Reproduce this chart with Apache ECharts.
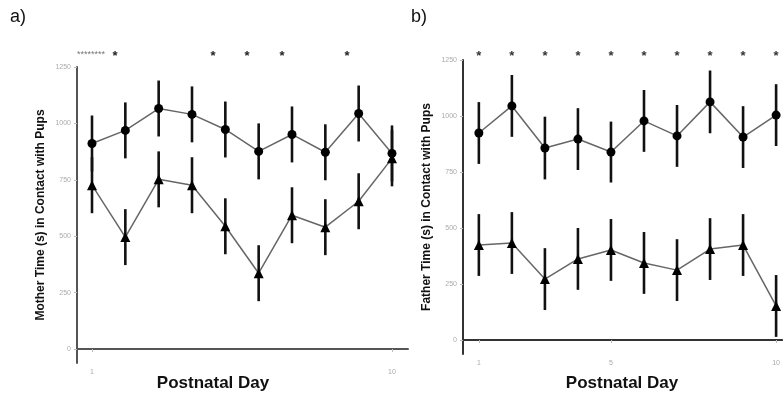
<!DOCTYPE html>
<html>
<head>
<meta charset="utf-8">
<script src="https://cdn.jsdelivr.net/npm/echarts@6/dist/echarts.min.js"></script>
<style>
  html, body { margin: 0; padding: 0; background: #fff; }
  #chart { width: 783px; height: 401px; }
</style>
</head>
<body>
<div id="chart"></div>
<script>
// postnatal days
const days = [1, 2, 3, 4, 5, 6, 7, 8, 9, 10]

// a) mother
const motherUpper = [911, 969, 1066, 1040, 973, 876, 951, 872, 1044, 867]
const motherUpperErr = [124, 124, 124, 124, 124, 124, 124, 124, 124, 124]
const motherLower = [726, 496, 752, 726, 544, 336, 593, 540, 655, 845]
const motherLowerErr = [124, 124, 124, 124, 124, 124, 124, 124, 124, 124]
const motherStars = [1.69, 4.63, 5.65, 6.7, 8.65]

// b) father
const fatherUpper = [924, 1045, 857, 897, 839, 978, 911, 1063, 906, 1004]
const fatherUpperErr = [138, 138, 140, 138, 136, 138, 138, 140, 138, 138]
const fatherLower = [424, 433, 272, 362, 402, 344, 312, 406, 424, 152]
const fatherLowerErr = [138, 138, 138, 138, 138, 138, 138, 138, 138, 138]
const fatherStars = [1, 2, 3, 4, 5, 6, 7, 8, 9, 10]

// tick labels
const yTicks = [0, 250, 500, 750, 1000, 1250]
const xTicksA = [1, 10]
const xTicksB = [1, 5, 10]
const starYA = 1312
const starYB = 1281

const chart = echarts.init(document.getElementById('chart'))

const pairs = (vals) => days.map((d, i) => [d, vals[i]])
const errData = (vals, errs) => days.map((d, i) => [d, vals[i] - errs[i], vals[i] + errs[i]])

// 误差线
const errorSeries = (idx, vals, errs) => ({
  type: 'custom',
  xAxisIndex: idx,
  yAxisIndex: idx,
  z: 2,
  data: errData(vals, errs),
  renderItem: (params, api) => {
    const lo = api.coord([api.value(0), api.value(1)])
    const hi = api.coord([api.value(0), api.value(2)])
    return {
      type: 'line',
      shape: { x1: lo[0], y1: lo[1], x2: hi[0], y2: hi[1] },
      style: { stroke: '#111', lineWidth: 2.6 }
    }
  }
})

const lineSeries = (idx, vals, symbol) => ({
  type: 'line',
  xAxisIndex: idx,
  yAxisIndex: idx,
  z: 3,
  data: pairs(vals),
  symbol: symbol,
  symbolSize: symbol === 'triangle' ? 10 : 9,
  lineStyle: { color: '#666', width: 1.5 },
  itemStyle: { color: '#000' }
})

// 显著性星号
const starSeries = (idx, xs, y, color) => ({
  type: 'custom',
  xAxisIndex: idx,
  yAxisIndex: idx,
  z: 4,
  clip: false,
  data: xs.map(x => [x, y]),
  renderItem: (params, api) => {
    const p = api.coord([api.value(0), api.value(1)])
    return {
      type: 'text',
      x: p[0],
      y: p[1] + 3,
      style: {
        text: '*',
        fill: color,
        font: 'bold 13px "Liberation Sans"',
        align: 'center',
        verticalAlign: 'middle'
      }
    }
  }
})

const axisLabel = { fontSize: 7, color: '#aaa', fontFamily: 'Liberation Sans', formatter: v => String(v) }

const yAxisBase = (idx, color) => ({
  type: 'value',
  gridIndex: idx,
  min: idx === 0 ? -62 : -62.5,
  max: 1250,
  splitLine: { show: false },
  axisLine: { show: true, lineStyle: { color: color, width: 2 } },
  axisTick: { show: true, length: 3, customValues: yTicks, lineStyle: { color: '#bbb' } },
  axisLabel: { ...axisLabel, customValues: yTicks, margin: 6 },
  name: idx === 0 ? 'Mother Time (s) in Contact with Pups' : 'Father Time (s) in Contact with Pups',
  nameLocation: 'middle',
  nameGap: 30,
  nameTextStyle: { fontSize: 12, fontWeight: 'bold', color: '#111', fontFamily: 'Liberation Sans' }
})

const option = {
  backgroundColor: '#fff',
  animation: false,
  grid: [
    { left: 77, top: 67, width: 331, height: 296 },
    { left: 463, top: 60, width: 320, height: 294 }
  ],
  xAxis: [
    {
      type: 'value', gridIndex: 0, min: 0.55, max: 10.48,
      splitLine: { show: false },
      axisLine: { show: true, lineStyle: { color: '#555', width: 2 } },
      axisTick: { show: true, length: 3, customValues: xTicksA, lineStyle: { color: '#bbb' } },
      axisLabel: { ...axisLabel, customValues: xTicksA, margin: 6 }
    },
    {
      type: 'value', gridIndex: 1, min: 0.52, max: 10.18,
      splitLine: { show: false },
      axisLine: { show: true, lineStyle: { color: '#333', width: 2 } },
      axisTick: { show: true, length: 3, customValues: xTicksB, lineStyle: { color: '#bbb' } },
      axisLabel: { ...axisLabel, customValues: xTicksB, margin: 6 }
    }
  ],
  yAxis: [yAxisBase(0, '#555'), yAxisBase(1, '#333')],
  graphic: [
    { type: 'text', left: 10, top: 8, style: { text: 'a)', font: '18px "Liberation Sans"', fill: '#111' } },
    { type: 'text', left: 411, top: 8, style: { text: 'b)', font: '18px "Liberation Sans"', fill: '#111' } },
    { type: 'text', left: 77, top: 50, style: { text: '********', font: '9px "Liberation Sans"', fill: '#777' } },
    { type: 'text', x: 213, y: 383, style: { text: 'Postnatal Day', font: 'bold 17px "Liberation Sans"', fill: '#111', align: 'center', verticalAlign: 'middle' } },
    { type: 'text', x: 622, y: 383, style: { text: 'Postnatal Day', font: 'bold 17px "Liberation Sans"', fill: '#111', align: 'center', verticalAlign: 'middle' } }
  ],
  series: [
    errorSeries(0, motherUpper, motherUpperErr),
    errorSeries(0, motherLower, motherLowerErr),
    lineSeries(0, motherUpper, 'circle'),
    lineSeries(0, motherLower, 'triangle'),
    starSeries(0, motherStars, starYA, '#222'),
    errorSeries(1, fatherUpper, fatherUpperErr),
    errorSeries(1, fatherLower, fatherLowerErr),
    lineSeries(1, fatherUpper, 'circle'),
    lineSeries(1, fatherLower, 'triangle'),
    starSeries(1, fatherStars, starYB, '#333')
  ]
}

chart.setOption(option)
</script>
</body>
</html>
